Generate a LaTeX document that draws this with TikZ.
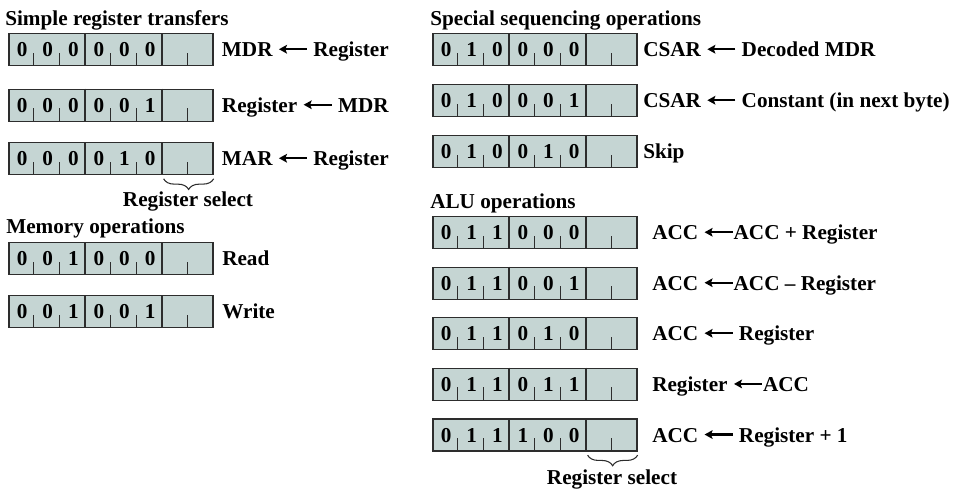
\documentclass[tikz,border=0pt]{standalone}
\usepackage{fontspec}
\setmainfont{Liberation Serif}
\usetikzlibrary{decorations.pathreplacing,arrows.meta}
\definecolor{cellfill}{RGB}{197,213,211}
\definecolor{edgegray}{RGB}{45,45,45}
\newcommand\larr{\tikz[baseline=-5.6pt,x=1pt,y=1pt]\draw[line width=1.6pt,-{Stealth[length=6pt,width=6.5pt,inset=1.2pt]}] (21,0)--(0,0);}
\newcommand\instr[6]{%
  \node[fieldbox] (#1) at (#2,#3) {};
  \draw[divider] ({#2+3*25.6},#3) -- ({#2+3*25.6},{#3+32});
  \draw[divider] ({#2+6*25.6},#3) -- ({#2+6*25.6},{#3+32});
  \foreach \t in {1,2,4,5} \draw[tickline] ({#2+\t*25.6},{#3+32}) -- ++(0,-12.5);
  \draw[tickline] ({#2+6*25.6+25.2},{#3+32}) -- ++(0,-12.5);
  \foreach \b [count=\i] in {#4} \node[digit] (#1-d\i) at ({#2+(\i-0.5)*25.6+1},{#3+23.7}) {\b};
  \node[lbl] (#1-l) at (#5,{#3+23.7}) {#6};
}
\tikzset{
  txt/.style={inner sep=0pt, font=\fontsize{15.9}{19}\selectfont\bfseries},
  lbl/.style={txt, anchor=base west},
  digit/.style={txt, anchor=base},
  fieldbox/.style={draw=edgegray, fill=cellfill, line width=1pt, minimum width=153pt, minimum height=24pt, inner sep=0pt, anchor=north west},
  divider/.style={draw=edgegray, line width=1pt},
  tickline/.style={draw=edgegray, line width=0.7pt},
  bracestyle/.style={draw=edgegray, line width=0.8pt, decorate, decoration={brace, amplitude=8pt}},
}
\begin{document}
\begin{tikzpicture}[x=0.75pt,y=-0.75pt]
\useasboundingbox (0,0) rectangle (962,490);
% left column
\node[lbl] (h1) at (5,25) {Simple register transfers};
\instr{A1}{8.3}{33}{0,0,0,0,0,0}{221.7}{MDR \larr{} Register}
\instr{A2}{8.3}{88.5}{0,0,0,0,0,1}{221.7}{Register \larr{} MDR}
\instr{A3}{8.3}{142}{0,0,0,0,1,0}{221.7}{MAR \larr{} Register}
\draw[bracestyle] ([yshift=-2.6pt]A3.south east) -- ([yshift=-2.6pt,xshift=-37.5pt]A3.south east);
\node[txt, anchor=base] (rsA) at (188,206.7) {Register select};
\node[lbl] (h2) at (6,233) {Memory operations};
\instr{M1}{8.3}{242}{0,0,1,0,0,0}{222}{Read}
\instr{M2}{8.3}{295}{0,0,1,0,0,1}{222}{Write}
% right column
\node[lbl] (h3) at (430,25) {Special sequencing operations};
\instr{S1}{432.3}{33}{0,1,0,0,0,0}{643}{CSAR \larr{} Decoded MDR}
\instr{S2}{432.3}{84}{0,1,0,0,0,1}{643}{CSAR \larr{} Constant (in next byte)}
\instr{S3}{432.3}{135}{0,1,0,0,1,0}{643}{Skip}
\node[lbl] (h4) at (430,208.5) {ALU operations};
\instr{L1}{432.3}{216}{0,1,1,0,0,0}{652}{ACC \larr{}ACC + Register}
\instr{L2}{432.3}{266.5}{0,1,1,0,0,1}{652}{ACC \larr{}ACC – Register}
\instr{L3}{432.3}{317}{0,1,1,0,1,0}{652}{ACC \larr{} Register}
\instr{L4}{432.3}{367.7}{0,1,1,0,1,1}{652}{Register \larr{}ACC}
\instr{L5}{432.3}{418.3}{0,1,1,1,0,0}{652}{ACC \larr{} Register + 1}
\draw[bracestyle] ([yshift=-2.6pt]L5.south east) -- ([yshift=-2.6pt,xshift=-37.5pt]L5.south east);
\node[txt, anchor=base] (rsB) at (612,484) {Register select};
\end{tikzpicture}
\end{document}
